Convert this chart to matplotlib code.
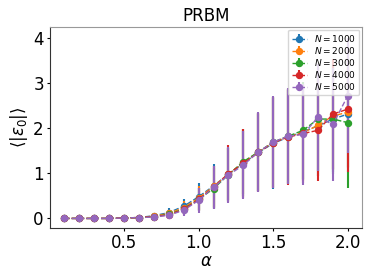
import numpy as np
import matplotlib
matplotlib.use('Agg')
import matplotlib.pyplot as plt

# Dane
alpha = [0.1, 0.2, 0.3, 0.4, 0.5, 0.6, 0.7, 0.8, 0.9, 1.0,
         1.1, 1.2, 1.3, 1.4, 1.5, 1.6, 1.7, 1.8, 1.9, 2.0]
sizes = [1000, 2000, 3000, 4000, 5000]

eps_1000 = [0, 0, 0, 0, 0.01, 0.02, 0.06, 0.13, 0.27, 0.48,
            0.72, 0.98, 1.22, 1.46, 1.66, 1.80, 1.92, 2.05, 2.20, 2.31]
eps_2000 = [0, 0, 0, 0, 0.01, 0.02, 0.05, 0.11, 0.24, 0.45,
            0.71, 0.98, 1.23, 1.47, 1.68, 1.81, 1.90, 2.06, 2.27, 2.35]
eps_3000 = [0, 0, 0, 0, 0.01, 0.02, 0.04, 0.09, 0.21, 0.42,
            0.66, 0.97, 1.26, 1.47, 1.69, 1.82, 1.95, 2.20, 2.20, 2.12]
eps_4000 = [0, 0, 0, 0, 0.01, 0.02, 0.04, 0.08, 0.20, 0.42,
            0.69, 0.99, 1.22, 1.46, 1.68, 1.80, 1.88, 1.95, 2.31, 2.42]
eps_5000 = [0, 0, 0, 0, 0.01, 0.02, 0.03, 0.07, 0.18, 0.40,
            0.69, 0.96, 1.18, 1.47, 1.69, 1.82, 1.86, 2.24, 2.08, 2.72]

err_1000 = [0.005, 0.005, 0.005, 0.01, 0.01, 0.02, 0.05, 0.10, 0.16, 0.30,
            0.48, 0.58, 0.72, 0.86, 1.00, 1.04, 1.08, 1.12, 1.18, 1.20]
err_2000 = [0.005, 0.005, 0.005, 0.01, 0.01, 0.02, 0.04, 0.08, 0.14, 0.27,
            0.46, 0.58, 0.75, 0.86, 1.00, 1.04, 1.08, 1.12, 1.20, 1.22]
err_3000 = [0.005, 0.005, 0.005, 0.01, 0.01, 0.02, 0.04, 0.07, 0.12, 0.25,
            0.45, 0.58, 0.72, 0.86, 1.00, 1.04, 1.08, 1.14, 1.22, 1.45]
err_4000 = [0.005, 0.005, 0.005, 0.01, 0.01, 0.02, 0.04, 0.07, 0.12, 0.26,
            0.47, 0.63, 0.76, 0.87, 1.00, 1.07, 1.10, 1.13, 1.22, 1.39]
err_5000 = [0.005, 0.005, 0.005, 0.01, 0.01, 0.02, 0.04, 0.08, 0.12, 0.28,
            0.48, 0.62, 0.75, 0.88, 1.02, 1.06, 1.12, 1.18, 1.26, 1.28]

means = [eps_1000, eps_2000, eps_3000, eps_4000, eps_5000]
errs = [err_1000, err_2000, err_3000, err_4000, err_5000]
colors = ['#1f77b4', '#ff7f0e', '#2ca02c', '#d62728', '#9467bd']

fig = plt.figure(figsize=(3.74, 2.80), dpi=100)
ax = fig.add_axes([0.134, 0.186, 0.834, 0.718])

for n, m, e, col in zip(sizes, means, errs, colors):
    ax.errorbar(alpha, m, yerr=e, fmt='o--', color=col, ms=4.3, lw=1.0,
                elinewidth=1.5, capsize=0, label=f'$N={n}$')

ax.set_ylim(-0.21, 4.24)
ax.set_xticks([0.5, 1.0, 1.5, 2.0])
ax.set_yticks([0, 1, 2, 3, 4])
ax.tick_params(labelsize=12, length=2.5, width=0.8, pad=2)
ax.set_xlabel(r'$\alpha$', fontsize=12, labelpad=0)
ax.set_ylabel(r'$\langle|\varepsilon_0|\rangle$', fontsize=12, labelpad=2)
ax.set_title('PRBM', fontsize=12, pad=4)

for side in ['top', 'right']:
    ax.spines[side].set_color('#999999')
for side in ['left', 'bottom']:
    ax.spines[side].set_color('#333333')

ax.legend(loc='upper right', fontsize=6.5, borderpad=0.35, labelspacing=0.12,
          handlelength=1.7, handletextpad=0.8, borderaxespad=0.3)

fig.savefig('out.png', dpi=100)
